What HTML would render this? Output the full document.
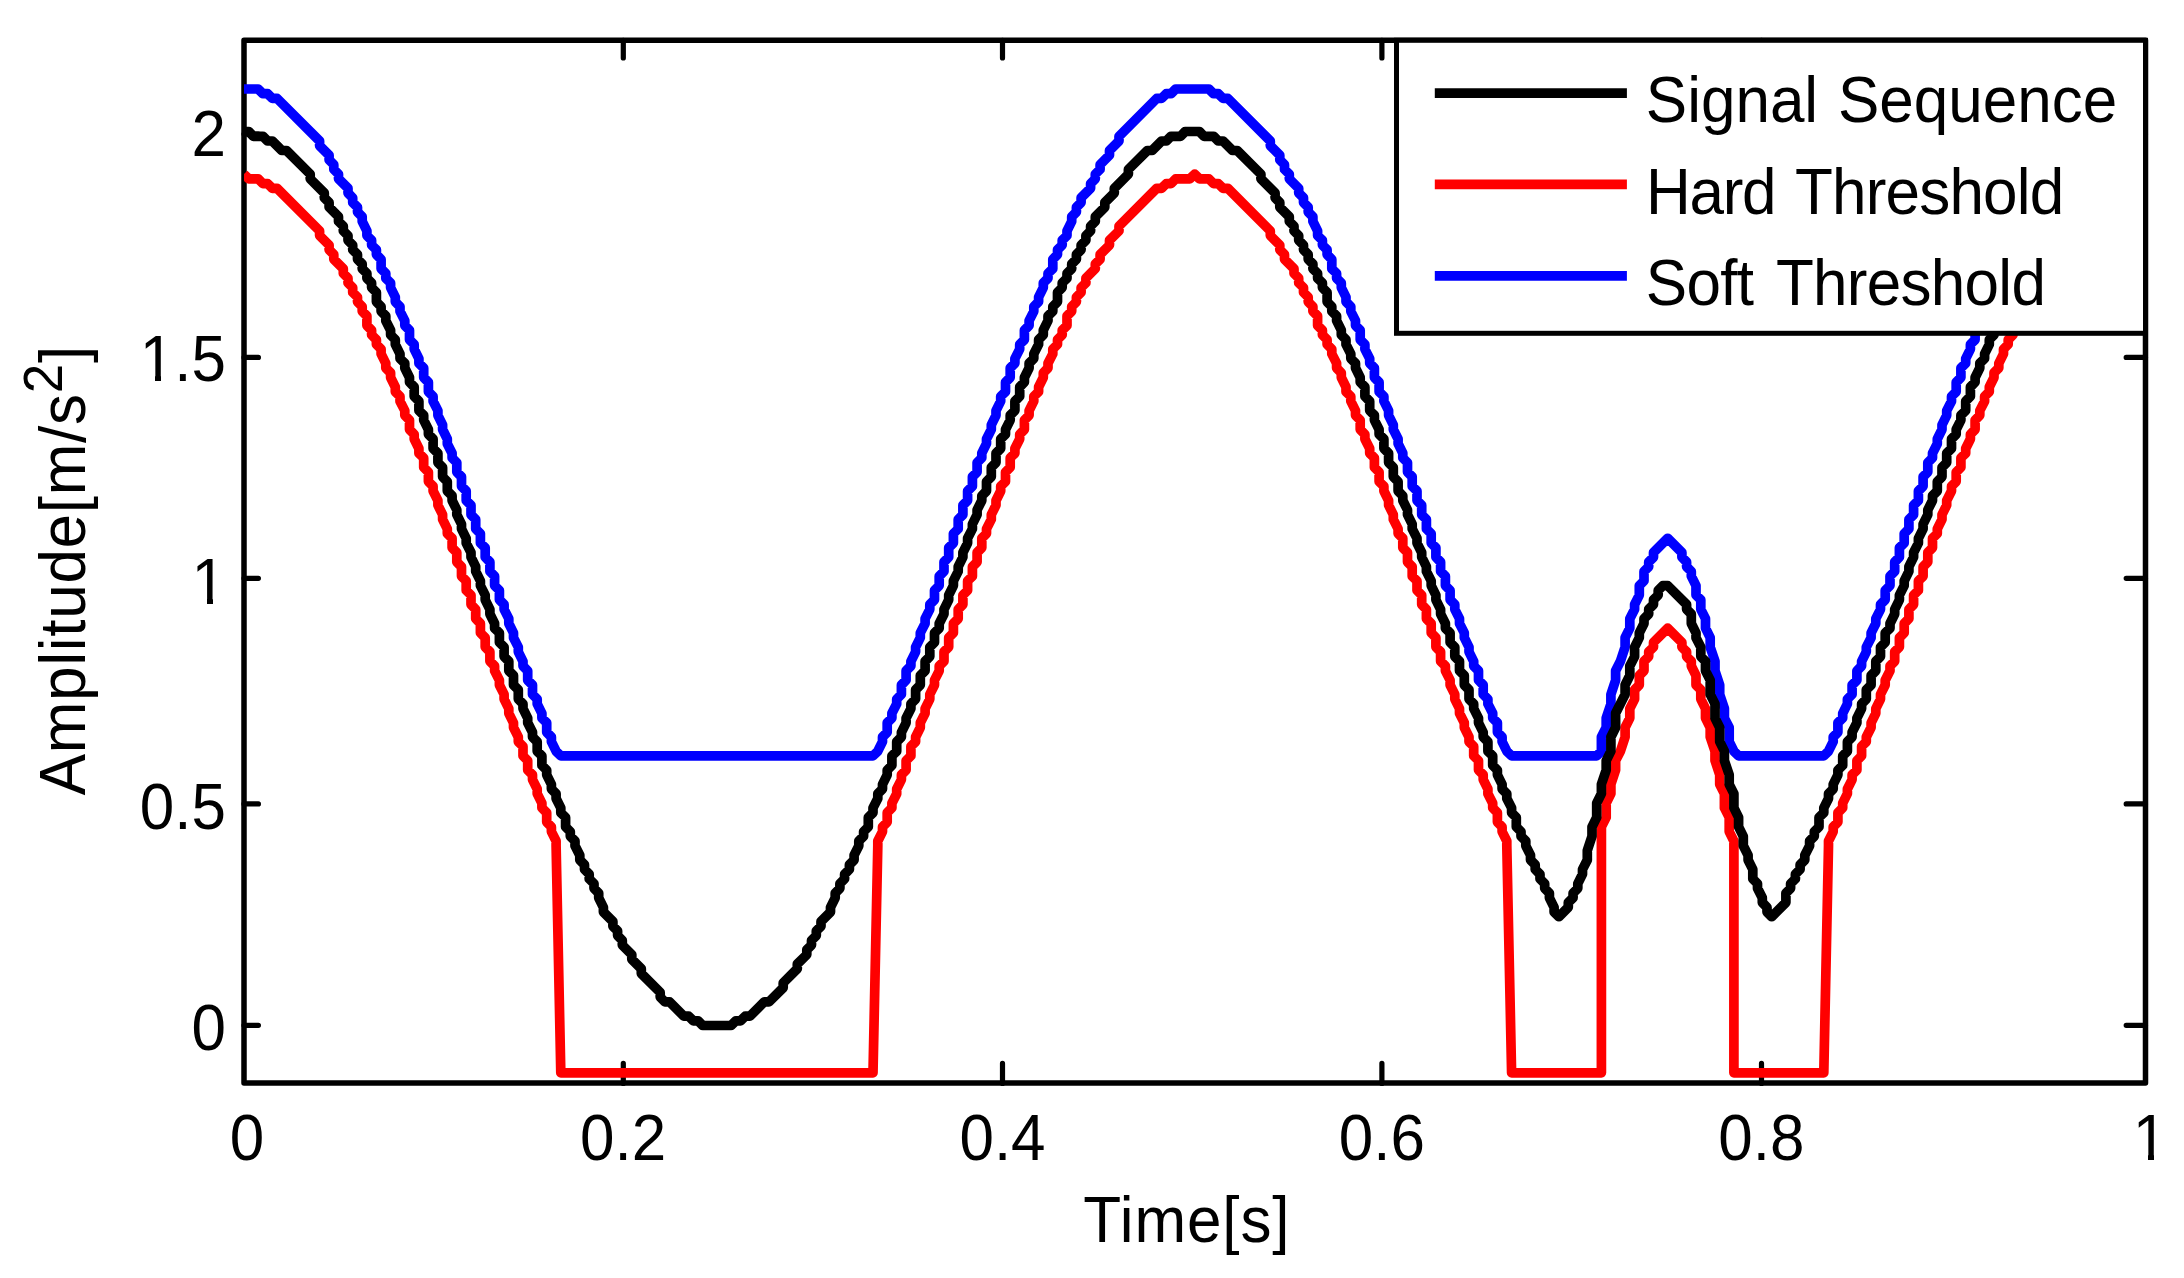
<!DOCTYPE html>
<html><head><meta charset="utf-8"><title>Thresholding</title>
<style>
html,body{margin:0;padding:0;background:#fff;}
svg{display:block;}
text{font-family:"Liberation Sans",sans-serif;font-size:62px;fill:#000;}
</style></head><body>
<svg width="2184" height="1278" viewBox="0 0 2184 1278">
<rect x="0" y="0" width="2184" height="1278" fill="#fff"/>
<defs><clipPath id="ax"><rect x="244.0" y="40.3" width="1901.5" height="1042.7"/></clipPath></defs>
<rect x="244.0" y="40.3" width="1901.5" height="1042.7" fill="none" stroke="#000" stroke-width="5.5" stroke-linejoin="round"/>
<path d="M623.3,1083.5V1063.4 M623.3,40.3V57.9 M1002.5,1083.5V1063.4 M1002.5,40.3V57.9 M1381.9,1083.5V1063.4 M1381.9,40.3V57.9 M1761.5,1083.5V1063.4 M1761.5,40.3V57.9 M244.0,134.0H258.4 M2145.5,134.0H2126.2 M244.0,357.4H258.4 M2145.5,357.4H2126.2 M244.0,578.3H258.4 M2145.5,578.3H2126.2 M244.0,803.9H258.4 M2145.5,803.9H2126.2 M244.0,1025.3H258.4 M2145.5,1025.3H2126.2" fill="none" stroke="#000" stroke-width="5.2" stroke-linecap="round"/>
<g clip-path="url(#ax)" fill="none" stroke-width="9.7" stroke-linejoin="round">
<polyline stroke="#0000ff" points="243.9,89.0 258.1,89.0 262.9,93.7 267.6,93.7 272.3,98.4 277.0,98.4 319.6,141.0 319.6,145.7 329.1,155.2 329.1,159.9 333.8,164.7 333.8,169.4 338.5,174.1 338.5,178.8 348.0,188.3 348.0,193.0 352.7,197.8 352.7,202.5 357.5,207.2 357.5,212.0 362.2,216.7 362.2,221.4 366.9,230.9 366.9,235.6 371.6,240.3 371.6,245.1 376.4,249.8 376.4,254.5 381.1,259.3 381.1,268.7 385.8,273.4 385.8,278.2 390.6,282.9 390.6,287.6 395.3,297.1 395.3,301.8 400.0,306.6 400.0,311.3 404.8,320.7 404.8,325.5 409.5,330.2 409.5,339.7 414.2,344.4 414.2,349.1 418.9,358.6 418.9,363.3 423.7,368.0 423.7,377.5 428.4,382.2 428.4,391.7 433.1,396.4 433.1,401.2 437.9,410.6 437.9,415.3 442.6,424.8 442.6,429.5 447.3,439.0 447.3,443.7 452.1,453.2 452.1,457.9 456.8,462.6 456.8,472.1 461.5,476.8 461.5,486.3 466.2,491.0 466.2,500.5 471.0,505.2 471.0,514.7 475.7,519.4 475.7,528.9 480.4,533.6 480.4,543.1 485.2,547.8 485.2,557.2 489.9,562.0 489.9,571.4 494.6,576.2 494.6,585.6 499.4,590.4 499.4,599.8 504.1,604.5 504.1,609.3 508.8,618.7 508.8,623.5 513.5,632.9 513.5,637.7 518.3,647.1 518.3,651.8 523.0,661.3 523.0,666.0 527.7,670.8 527.7,680.2 532.5,685.0 532.5,694.4 537.2,699.1 537.2,703.9 541.9,713.3 541.9,718.1 546.7,722.8 546.7,732.3 551.4,737.0 551.4,741.7 556.1,751.2 560.8,755.9 873.0,755.9 877.8,751.2 882.5,741.7 882.5,737.0 887.2,732.3 887.2,722.8 891.9,718.1 891.9,713.3 896.7,703.9 896.7,699.1 901.4,694.4 901.4,685.0 906.1,680.2 906.1,670.8 910.9,666.0 910.9,661.3 915.6,651.8 915.6,647.1 920.3,637.7 920.3,632.9 925.1,623.5 925.1,618.7 929.8,609.3 929.8,604.5 934.5,599.8 934.5,590.4 939.2,585.6 939.2,576.2 944.0,571.4 944.0,562.0 948.7,557.2 948.7,547.8 953.4,543.1 953.4,533.6 958.2,528.9 958.2,519.4 962.9,514.7 962.9,505.2 967.6,500.5 967.6,491.0 972.4,486.3 972.4,476.8 977.1,472.1 977.1,462.6 981.8,457.9 981.8,453.2 986.5,443.7 986.5,439.0 991.3,429.5 991.3,424.8 996.0,415.3 996.0,410.6 1000.7,401.2 1000.7,396.4 1005.5,391.7 1005.5,382.2 1010.2,377.5 1010.2,368.0 1014.9,363.3 1014.9,358.6 1019.7,349.1 1019.7,344.4 1024.4,339.7 1024.4,330.2 1029.1,325.5 1029.1,320.7 1033.8,311.3 1033.8,306.6 1038.6,301.8 1038.6,297.1 1043.3,287.6 1043.3,282.9 1048.0,278.2 1048.0,273.4 1052.8,268.7 1052.8,259.3 1057.5,254.5 1057.5,249.8 1062.2,245.1 1062.2,240.3 1067.0,235.6 1067.0,230.9 1071.7,221.4 1071.7,216.7 1076.4,212.0 1076.4,207.2 1081.1,202.5 1081.1,197.8 1090.6,188.3 1090.6,183.6 1095.3,178.8 1095.3,174.1 1100.1,169.4 1100.1,164.7 1109.5,155.2 1109.5,150.5 1119.0,141.0 1119.0,136.3 1156.8,98.4 1161.6,98.4 1166.3,93.7 1171.0,93.7 1175.7,89.0 1208.9,89.0 1213.6,93.7 1218.3,93.7 1223.0,98.4 1227.8,98.4 1270.3,141.0 1270.3,145.7 1279.8,155.2 1279.8,159.9 1284.5,164.7 1284.5,169.4 1289.3,174.1 1289.3,178.8 1298.7,188.3 1298.7,193.0 1303.5,197.8 1303.5,202.5 1308.2,207.2 1308.2,212.0 1312.9,216.7 1312.9,221.4 1317.6,230.9 1317.6,235.6 1322.4,240.3 1322.4,245.1 1327.1,249.8 1327.1,254.5 1331.8,259.3 1331.8,268.7 1336.6,273.4 1336.6,278.2 1341.3,282.9 1341.3,287.6 1346.0,297.1 1346.0,301.8 1350.8,306.6 1350.8,311.3 1355.5,320.7 1355.5,325.5 1360.2,330.2 1360.2,339.7 1364.9,344.4 1364.9,349.1 1369.7,358.6 1369.7,363.3 1374.4,368.0 1374.4,377.5 1379.1,382.2 1379.1,391.7 1383.9,396.4 1383.9,401.2 1388.6,410.6 1388.6,415.3 1393.3,424.8 1393.3,429.5 1398.1,439.0 1398.1,443.7 1402.8,453.2 1402.8,457.9 1407.5,462.6 1407.5,472.1 1412.2,476.8 1412.2,486.3 1417.0,491.0 1417.0,500.5 1421.7,505.2 1421.7,514.7 1426.4,519.4 1426.4,528.9 1431.2,533.6 1431.2,543.1 1435.9,547.8 1435.9,557.2 1440.6,562.0 1440.6,571.4 1445.4,576.2 1445.4,585.6 1450.1,590.4 1450.1,599.8 1454.8,604.5 1454.8,609.3 1459.5,618.7 1459.5,623.5 1464.3,632.9 1464.3,637.7 1469.0,647.1 1469.0,651.8 1473.7,661.3 1473.7,666.0 1478.5,670.8 1478.5,680.2 1483.2,685.0 1483.2,694.4 1487.9,699.1 1487.9,703.9 1492.7,713.3 1492.7,718.1 1497.4,722.8 1497.4,732.3 1502.1,737.0 1502.1,741.7 1506.8,751.2 1511.6,755.9 1596.7,755.9 1601.4,751.2 1601.4,737.0 1606.2,727.5 1606.2,718.1 1610.9,703.9 1610.9,694.4 1615.6,680.2 1615.6,670.8 1620.4,661.3 1625.1,647.1 1625.1,637.7 1629.8,628.2 1629.8,618.7 1634.6,609.3 1634.6,604.5 1639.3,595.1 1639.3,585.6 1644.0,580.9 1644.0,571.4 1648.7,566.7 1648.7,562.0 1653.5,557.2 1653.5,552.5 1667.7,538.3 1681.9,552.5 1681.9,557.2 1686.6,562.0 1686.6,566.7 1691.3,571.4 1691.3,576.2 1696.0,585.6 1696.0,595.1 1700.8,599.8 1700.8,609.3 1705.5,618.7 1705.5,628.2 1710.2,637.7 1710.2,647.1 1715.0,661.3 1715.0,670.8 1719.7,685.0 1719.7,694.4 1724.4,708.6 1724.4,718.1 1729.2,727.5 1729.2,741.7 1733.9,751.2 1738.6,755.9 1823.8,755.9 1828.5,751.2 1833.2,741.7 1833.2,737.0 1837.9,732.3 1837.9,722.8 1842.7,718.1 1842.7,713.3 1847.4,703.9 1847.4,699.1 1852.1,694.4 1852.1,685.0 1856.9,680.2 1856.9,670.8 1861.6,666.0 1861.6,661.3 1866.3,651.8 1866.3,647.1 1871.1,637.7 1871.1,632.9 1875.8,623.5 1875.8,618.7 1880.5,609.3 1880.5,604.5 1885.2,599.8 1885.2,590.4 1890.0,585.6 1890.0,576.2 1894.7,571.4 1894.7,562.0 1899.4,557.2 1899.4,547.8 1904.2,543.1 1904.2,533.6 1908.9,528.9 1908.9,519.4 1913.6,514.7 1913.6,505.2 1918.4,500.5 1918.4,491.0 1923.1,486.3 1923.1,476.8 1927.8,472.1 1927.8,462.6 1932.5,457.9 1932.5,453.2 1937.3,443.7 1937.3,439.0 1942.0,429.5 1942.0,424.8 1946.7,415.3 1946.7,410.6 1951.5,401.2 1951.5,396.4 1956.2,391.7 1956.2,382.2 1960.9,377.5 1960.9,368.0 1965.7,363.3 1965.7,358.6 1970.4,349.1 1970.4,344.4 1975.1,339.7 1975.1,330.2 1979.8,325.5 1979.8,320.7 1984.6,311.3 1984.6,306.6 1989.3,301.8 1989.3,297.1 1994.0,287.6 1994.0,282.9 1998.8,278.2 1998.8,273.4 2003.5,268.7 2003.5,259.3 2008.2,254.5 2008.2,249.8 2013.0,245.1 2013.0,240.3 2017.7,235.6 2017.7,230.9 2022.4,221.4 2022.4,216.7 2027.1,212.0 2027.1,207.2 2031.9,202.5 2031.9,197.8 2041.3,188.3 2041.3,183.6 2046.1,178.8 2046.1,174.1 2050.8,169.4 2050.8,164.7 2060.2,155.2 2060.2,150.5 2069.7,141.0 2069.7,136.3 2107.6,98.4 2112.3,98.4 2117.0,93.7 2121.7,93.7 2126.5,89.0 2145.4,89.0"/>
<polyline stroke="#ff0000" points="243.9,174.1 248.7,178.8 258.1,178.8 262.9,183.6 267.6,183.6 272.3,188.3 277.0,188.3 319.6,230.9 319.6,235.6 329.1,245.1 329.1,249.8 333.8,254.5 333.8,259.3 343.3,268.7 343.3,273.4 348.0,278.2 348.0,282.9 352.7,287.6 352.7,292.4 357.5,297.1 357.5,301.8 362.2,306.6 362.2,311.3 366.9,316.0 366.9,325.5 371.6,330.2 371.6,334.9 376.4,339.7 376.4,344.4 381.1,349.1 381.1,353.9 385.8,363.3 385.8,368.0 390.6,372.8 390.6,377.5 395.3,387.0 395.3,391.7 400.0,396.4 400.0,401.2 404.8,410.6 404.8,415.3 409.5,420.1 409.5,429.5 414.2,434.3 414.2,439.0 418.9,448.5 418.9,453.2 423.7,457.9 423.7,467.4 428.4,472.1 428.4,481.6 433.1,486.3 433.1,491.0 437.9,500.5 437.9,505.2 442.6,514.7 442.6,519.4 447.3,528.9 447.3,533.6 452.1,538.3 452.1,547.8 456.8,552.5 456.8,562.0 461.5,566.7 461.5,576.2 466.2,580.9 466.2,590.4 471.0,595.1 471.0,604.5 475.7,609.3 475.7,618.7 480.4,623.5 480.4,632.9 485.2,637.7 485.2,647.1 489.9,651.8 489.9,661.3 494.6,666.0 494.6,670.8 499.4,680.2 499.4,685.0 504.1,694.4 504.1,699.1 508.8,708.6 508.8,713.3 513.5,722.8 513.5,727.5 518.3,737.0 518.3,741.7 523.0,746.4 523.0,755.9 527.7,760.6 527.7,770.1 532.5,774.8 532.5,779.6 537.2,789.0 537.2,793.7 541.9,803.2 541.9,807.9 546.7,812.7 546.7,822.1 551.4,826.9 551.4,831.6 556.1,841.0 556.1,845.8 560.8,1072.8 873.0,1072.8 877.8,845.8 877.8,841.0 882.5,831.6 882.5,826.9 887.2,822.1 887.2,812.7 891.9,807.9 891.9,803.2 896.7,793.7 896.7,789.0 901.4,779.6 901.4,774.8 906.1,770.1 906.1,760.6 910.9,755.9 910.9,746.4 915.6,741.7 915.6,737.0 920.3,727.5 920.3,722.8 925.1,713.3 925.1,708.6 929.8,699.1 929.8,694.4 934.5,685.0 934.5,680.2 939.2,670.8 939.2,666.0 944.0,661.3 944.0,651.8 948.7,647.1 948.7,637.7 953.4,632.9 953.4,623.5 958.2,618.7 958.2,609.3 962.9,604.5 962.9,595.1 967.6,590.4 967.6,580.9 972.4,576.2 972.4,566.7 977.1,562.0 977.1,552.5 981.8,547.8 981.8,538.3 986.5,533.6 986.5,528.9 991.3,519.4 991.3,514.7 996.0,505.2 996.0,500.5 1000.7,491.0 1000.7,486.3 1005.5,481.6 1005.5,472.1 1010.2,467.4 1010.2,457.9 1014.9,453.2 1014.9,448.5 1019.7,439.0 1019.7,434.3 1024.4,429.5 1024.4,420.1 1029.1,415.3 1029.1,410.6 1033.8,401.2 1033.8,396.4 1038.6,391.7 1038.6,387.0 1043.3,377.5 1043.3,372.8 1048.0,368.0 1048.0,363.3 1052.8,353.9 1052.8,349.1 1057.5,344.4 1057.5,339.7 1062.2,334.9 1062.2,330.2 1067.0,325.5 1067.0,316.0 1071.7,311.3 1071.7,306.6 1076.4,301.8 1076.4,297.1 1081.1,292.4 1081.1,287.6 1085.9,282.9 1085.9,278.2 1095.3,268.7 1095.3,264.0 1100.1,259.3 1100.1,254.5 1109.5,245.1 1109.5,240.3 1119.0,230.9 1119.0,226.1 1156.8,188.3 1161.6,188.3 1166.3,183.6 1171.0,183.6 1175.7,178.8 1189.9,178.8 1194.7,174.1 1199.4,178.8 1208.9,178.8 1213.6,183.6 1218.3,183.6 1223.0,188.3 1227.8,188.3 1270.3,230.9 1270.3,235.6 1279.8,245.1 1279.8,249.8 1284.5,254.5 1284.5,259.3 1294.0,268.7 1294.0,273.4 1298.7,278.2 1298.7,282.9 1303.5,287.6 1303.5,292.4 1308.2,297.1 1308.2,301.8 1312.9,306.6 1312.9,311.3 1317.6,316.0 1317.6,325.5 1322.4,330.2 1322.4,334.9 1327.1,339.7 1327.1,344.4 1331.8,349.1 1331.8,353.9 1336.6,363.3 1336.6,368.0 1341.3,372.8 1341.3,377.5 1346.0,387.0 1346.0,391.7 1350.8,396.4 1350.8,401.2 1355.5,410.6 1355.5,415.3 1360.2,420.1 1360.2,429.5 1364.9,434.3 1364.9,439.0 1369.7,448.5 1369.7,453.2 1374.4,457.9 1374.4,467.4 1379.1,472.1 1379.1,481.6 1383.9,486.3 1383.9,491.0 1388.6,500.5 1388.6,505.2 1393.3,514.7 1393.3,519.4 1398.1,528.9 1398.1,533.6 1402.8,538.3 1402.8,547.8 1407.5,552.5 1407.5,562.0 1412.2,566.7 1412.2,576.2 1417.0,580.9 1417.0,590.4 1421.7,595.1 1421.7,604.5 1426.4,609.3 1426.4,618.7 1431.2,623.5 1431.2,632.9 1435.9,637.7 1435.9,647.1 1440.6,651.8 1440.6,661.3 1445.4,666.0 1445.4,670.8 1450.1,680.2 1450.1,685.0 1454.8,694.4 1454.8,699.1 1459.5,708.6 1459.5,713.3 1464.3,722.8 1464.3,727.5 1469.0,737.0 1469.0,741.7 1473.7,746.4 1473.7,755.9 1478.5,760.6 1478.5,770.1 1483.2,774.8 1483.2,779.6 1487.9,789.0 1487.9,793.7 1492.7,803.2 1492.7,807.9 1497.4,812.7 1497.4,822.1 1502.1,826.9 1502.1,831.6 1506.8,841.0 1506.8,845.8 1511.6,1072.8 1601.4,1072.8 1601.4,826.9 1606.2,817.4 1606.2,803.2 1610.9,793.7 1610.9,784.3 1615.6,770.1 1615.6,760.6 1620.4,751.2 1625.1,737.0 1625.1,727.5 1629.8,718.1 1629.8,708.6 1634.6,699.1 1634.6,689.7 1639.3,685.0 1639.3,675.5 1644.0,670.8 1644.0,661.3 1648.7,656.6 1648.7,651.8 1653.5,647.1 1653.5,642.4 1667.7,628.2 1681.9,642.4 1681.9,647.1 1686.6,651.8 1686.6,656.6 1691.3,661.3 1691.3,666.0 1696.0,675.5 1696.0,685.0 1700.8,689.7 1700.8,699.1 1705.5,708.6 1705.5,718.1 1710.2,727.5 1710.2,737.0 1715.0,751.2 1715.0,760.6 1719.7,774.8 1719.7,784.3 1724.4,793.7 1724.4,807.9 1729.2,817.4 1729.2,831.6 1733.9,841.0 1733.9,1072.8 1823.8,1072.8 1828.5,845.8 1828.5,841.0 1833.2,831.6 1833.2,826.9 1837.9,822.1 1837.9,812.7 1842.7,807.9 1842.7,803.2 1847.4,793.7 1847.4,789.0 1852.1,779.6 1852.1,774.8 1856.9,770.1 1856.9,760.6 1861.6,755.9 1861.6,746.4 1866.3,741.7 1866.3,737.0 1871.1,727.5 1871.1,722.8 1875.8,713.3 1875.8,708.6 1880.5,699.1 1880.5,694.4 1885.2,685.0 1885.2,680.2 1890.0,670.8 1890.0,666.0 1894.7,661.3 1894.7,651.8 1899.4,647.1 1899.4,637.7 1904.2,632.9 1904.2,623.5 1908.9,618.7 1908.9,609.3 1913.6,604.5 1913.6,595.1 1918.4,590.4 1918.4,580.9 1923.1,576.2 1923.1,566.7 1927.8,562.0 1927.8,552.5 1932.5,547.8 1932.5,538.3 1937.3,533.6 1937.3,528.9 1942.0,519.4 1942.0,514.7 1946.7,505.2 1946.7,500.5 1951.5,491.0 1951.5,486.3 1956.2,481.6 1956.2,472.1 1960.9,467.4 1960.9,457.9 1965.7,453.2 1965.7,448.5 1970.4,439.0 1970.4,434.3 1975.1,429.5 1975.1,420.1 1979.8,415.3 1979.8,410.6 1984.6,401.2 1984.6,396.4 1989.3,391.7 1989.3,387.0 1994.0,377.5 1994.0,372.8 1998.8,368.0 1998.8,363.3 2003.5,353.9 2003.5,349.1 2008.2,344.4 2008.2,339.7 2013.0,334.9 2013.0,330.2 2017.7,325.5 2017.7,316.0 2022.4,311.3 2022.4,306.6 2027.1,301.8 2027.1,297.1 2031.9,292.4 2031.9,287.6 2036.6,282.9 2036.6,278.2 2046.1,268.7 2046.1,264.0 2050.8,259.3 2050.8,254.5 2060.2,245.1 2060.2,240.3 2069.7,230.9 2069.7,226.1 2107.6,188.3 2112.3,188.3 2117.0,183.6 2121.7,183.6 2126.5,178.8 2140.7,178.8 2145.4,174.1"/>
<polyline stroke="#000000" points="243.9,131.5 248.7,131.5 253.4,136.3 262.9,136.3 267.6,141.0 272.3,141.0 281.8,150.5 286.5,150.5 310.2,174.1 310.2,178.8 324.3,193.0 324.3,197.8 329.1,202.5 329.1,207.2 338.5,216.7 338.5,221.4 343.3,226.1 343.3,230.9 348.0,235.6 348.0,240.3 352.7,245.1 352.7,249.8 357.5,254.5 357.5,259.3 362.2,264.0 362.2,268.7 366.9,273.4 366.9,278.2 371.6,282.9 371.6,287.6 376.4,292.4 376.4,301.8 381.1,306.6 381.1,311.3 385.8,316.0 385.8,320.7 390.6,330.2 390.6,334.9 395.3,339.7 395.3,344.4 400.0,353.9 400.0,358.6 404.8,363.3 404.8,368.0 409.5,377.5 409.5,382.2 414.2,387.0 414.2,396.4 418.9,401.2 418.9,410.6 423.7,415.3 423.7,420.1 428.4,429.5 428.4,434.3 433.1,439.0 433.1,448.5 437.9,453.2 437.9,462.6 442.6,467.4 442.6,476.8 447.3,481.6 447.3,491.0 452.1,495.8 452.1,500.5 456.8,509.9 456.8,514.7 461.5,524.1 461.5,528.9 466.2,538.3 466.2,543.1 471.0,552.5 471.0,557.2 475.7,566.7 475.7,571.4 480.4,580.9 480.4,585.6 485.2,595.1 485.2,599.8 489.9,609.3 489.9,614.0 494.6,623.5 494.6,628.2 499.4,632.9 499.4,642.4 504.1,647.1 504.1,656.6 508.8,661.3 508.8,670.8 513.5,675.5 513.5,685.0 518.3,689.7 518.3,699.1 523.0,703.9 523.0,708.6 527.7,718.1 527.7,722.8 532.5,732.3 532.5,737.0 537.2,741.7 537.2,751.2 541.9,755.9 541.9,765.4 546.7,770.1 546.7,774.8 551.4,784.3 551.4,789.0 556.1,793.7 556.1,798.5 560.8,807.9 560.8,812.7 565.6,817.4 565.6,826.9 570.3,831.6 570.3,836.3 575.0,841.0 575.0,845.8 579.8,855.2 579.8,860.0 584.5,864.7 584.5,869.4 589.2,874.2 589.2,878.9 594.0,883.6 594.0,888.3 598.7,893.1 598.7,897.8 603.4,907.3 603.4,912.0 612.9,921.5 612.9,926.2 617.6,930.9 617.6,935.6 622.3,940.4 622.3,945.1 631.8,954.6 631.8,959.3 641.3,968.8 641.3,973.5 660.2,992.4 660.2,997.1 664.9,1001.9 669.6,1001.9 683.8,1016.1 688.6,1016.1 693.3,1020.8 698.0,1020.8 702.7,1025.5 731.1,1025.5 735.9,1020.8 740.6,1020.8 745.3,1016.1 750.0,1016.1 764.2,1001.9 769.0,1001.9 783.2,987.7 783.2,982.9 797.3,968.8 797.3,964.0 806.8,954.6 806.8,949.8 811.5,945.1 811.5,940.4 816.3,935.6 816.3,930.9 821.0,926.2 821.0,921.5 830.5,912.0 830.5,907.3 835.2,897.8 835.2,893.1 839.9,888.3 839.9,883.6 844.6,878.9 844.6,874.2 849.4,869.4 849.4,864.7 854.1,860.0 854.1,855.2 858.8,845.8 858.8,841.0 863.6,836.3 863.6,831.6 868.3,826.9 868.3,817.4 873.0,812.7 873.0,807.9 877.8,798.5 877.8,793.7 882.5,789.0 882.5,784.3 887.2,774.8 887.2,770.1 891.9,765.4 891.9,755.9 896.7,751.2 896.7,741.7 901.4,737.0 901.4,732.3 906.1,722.8 906.1,718.1 910.9,708.6 910.9,703.9 915.6,699.1 915.6,689.7 920.3,685.0 920.3,675.5 925.1,670.8 925.1,661.3 929.8,656.6 929.8,647.1 934.5,642.4 934.5,632.9 939.2,628.2 939.2,623.5 944.0,614.0 944.0,609.3 948.7,599.8 948.7,595.1 953.4,585.6 953.4,580.9 958.2,571.4 958.2,566.7 962.9,557.2 962.9,552.5 967.6,543.1 967.6,538.3 972.4,528.9 972.4,524.1 977.1,514.7 977.1,509.9 981.8,500.5 981.8,495.8 986.5,491.0 986.5,481.6 991.3,476.8 991.3,467.4 996.0,462.6 996.0,453.2 1000.7,448.5 1000.7,439.0 1005.5,434.3 1005.5,429.5 1010.2,420.1 1010.2,415.3 1014.9,410.6 1014.9,401.2 1019.7,396.4 1019.7,387.0 1024.4,382.2 1024.4,377.5 1029.1,368.0 1029.1,363.3 1033.8,358.6 1033.8,353.9 1038.6,344.4 1038.6,339.7 1043.3,334.9 1043.3,330.2 1048.0,320.7 1048.0,316.0 1052.8,311.3 1052.8,306.6 1057.5,301.8 1057.5,292.4 1062.2,287.6 1062.2,282.9 1067.0,278.2 1067.0,273.4 1071.7,268.7 1071.7,264.0 1076.4,259.3 1076.4,254.5 1081.1,249.8 1081.1,245.1 1085.9,240.3 1085.9,235.6 1090.6,230.9 1090.6,226.1 1095.3,221.4 1095.3,216.7 1104.8,207.2 1104.8,202.5 1114.3,193.0 1114.3,188.3 1128.4,174.1 1128.4,169.4 1147.4,150.5 1152.1,150.5 1161.6,141.0 1166.3,141.0 1171.0,136.3 1180.5,136.3 1185.2,131.5 1199.4,131.5 1204.1,136.3 1213.6,136.3 1218.3,141.0 1223.0,141.0 1232.5,150.5 1237.2,150.5 1260.9,174.1 1260.9,178.8 1275.1,193.0 1275.1,197.8 1279.8,202.5 1279.8,207.2 1289.3,216.7 1289.3,221.4 1294.0,226.1 1294.0,230.9 1298.7,235.6 1298.7,240.3 1303.5,245.1 1303.5,249.8 1308.2,254.5 1308.2,259.3 1312.9,264.0 1312.9,268.7 1317.6,273.4 1317.6,278.2 1322.4,282.9 1322.4,287.6 1327.1,292.4 1327.1,301.8 1331.8,306.6 1331.8,311.3 1336.6,316.0 1336.6,320.7 1341.3,330.2 1341.3,334.9 1346.0,339.7 1346.0,344.4 1350.8,353.9 1350.8,358.6 1355.5,363.3 1355.5,368.0 1360.2,377.5 1360.2,382.2 1364.9,387.0 1364.9,396.4 1369.7,401.2 1369.7,410.6 1374.4,415.3 1374.4,420.1 1379.1,429.5 1379.1,434.3 1383.9,439.0 1383.9,448.5 1388.6,453.2 1388.6,462.6 1393.3,467.4 1393.3,476.8 1398.1,481.6 1398.1,491.0 1402.8,495.8 1402.8,500.5 1407.5,509.9 1407.5,514.7 1412.2,524.1 1412.2,528.9 1417.0,538.3 1417.0,543.1 1421.7,552.5 1421.7,557.2 1426.4,566.7 1426.4,571.4 1431.2,580.9 1431.2,585.6 1435.9,595.1 1435.9,599.8 1440.6,609.3 1440.6,614.0 1445.4,623.5 1445.4,628.2 1450.1,632.9 1450.1,642.4 1454.8,647.1 1454.8,656.6 1459.5,661.3 1459.5,670.8 1464.3,675.5 1464.3,685.0 1469.0,689.7 1469.0,699.1 1473.7,703.9 1473.7,708.6 1478.5,718.1 1478.5,722.8 1483.2,732.3 1483.2,737.0 1487.9,741.7 1487.9,751.2 1492.7,755.9 1492.7,765.4 1497.4,770.1 1497.4,774.8 1502.1,784.3 1502.1,789.0 1506.8,793.7 1506.8,798.5 1511.6,807.9 1511.6,812.7 1516.3,817.4 1516.3,826.9 1521.0,831.6 1521.0,836.3 1525.8,841.0 1525.8,845.8 1530.5,855.2 1530.5,860.0 1535.2,864.7 1535.2,869.4 1540.0,874.2 1540.0,878.9 1544.7,883.6 1544.7,888.3 1549.4,893.1 1549.4,897.8 1554.1,907.3 1554.1,912.0 1558.9,916.7 1568.3,907.3 1568.3,902.5 1573.1,897.8 1573.1,893.1 1577.8,888.3 1577.8,883.6 1582.5,874.2 1582.5,869.4 1587.3,860.0 1587.3,850.5 1592.0,836.3 1592.0,826.9 1596.7,817.4 1596.7,803.2 1601.4,793.7 1601.4,784.3 1606.2,770.1 1606.2,760.6 1610.9,751.2 1610.9,737.0 1615.6,727.5 1615.6,713.3 1625.1,694.4 1625.1,685.0 1629.8,675.5 1629.8,666.0 1634.6,656.6 1634.6,647.1 1639.3,637.7 1639.3,632.9 1644.0,623.5 1644.0,618.7 1648.7,614.0 1648.7,609.3 1653.5,604.5 1653.5,599.8 1658.2,595.1 1658.2,590.4 1662.9,585.6 1667.7,585.6 1686.6,604.5 1686.6,609.3 1691.3,614.0 1691.3,623.5 1696.0,632.9 1696.0,637.7 1700.8,647.1 1700.8,656.6 1705.5,661.3 1705.5,670.8 1710.2,680.2 1710.2,694.4 1715.0,703.9 1715.0,718.1 1719.7,727.5 1719.7,741.7 1724.4,751.2 1724.4,760.6 1729.2,774.8 1729.2,784.3 1733.9,793.7 1733.9,807.9 1738.6,817.4 1738.6,826.9 1743.3,836.3 1743.3,845.8 1748.1,855.2 1748.1,860.0 1752.8,869.4 1752.8,878.9 1757.5,883.6 1757.5,888.3 1762.3,897.8 1762.3,902.5 1767.0,907.3 1767.0,912.0 1771.7,916.7 1785.9,902.5 1785.9,893.1 1790.6,888.3 1790.6,883.6 1795.4,878.9 1795.4,874.2 1800.1,869.4 1800.1,864.7 1804.8,860.0 1804.8,855.2 1809.6,845.8 1809.6,841.0 1814.3,836.3 1814.3,831.6 1819.0,826.9 1819.0,817.4 1823.8,812.7 1823.8,807.9 1828.5,798.5 1828.5,793.7 1833.2,789.0 1833.2,784.3 1837.9,774.8 1837.9,770.1 1842.7,765.4 1842.7,755.9 1847.4,751.2 1847.4,741.7 1852.1,737.0 1852.1,732.3 1856.9,722.8 1856.9,718.1 1861.6,708.6 1861.6,703.9 1866.3,699.1 1866.3,689.7 1871.1,685.0 1871.1,675.5 1875.8,670.8 1875.8,661.3 1880.5,656.6 1880.5,647.1 1885.2,642.4 1885.2,632.9 1890.0,628.2 1890.0,623.5 1894.7,614.0 1894.7,609.3 1899.4,599.8 1899.4,595.1 1904.2,585.6 1904.2,580.9 1908.9,571.4 1908.9,566.7 1913.6,557.2 1913.6,552.5 1918.4,543.1 1918.4,538.3 1923.1,528.9 1923.1,524.1 1927.8,514.7 1927.8,509.9 1932.5,500.5 1932.5,495.8 1937.3,491.0 1937.3,481.6 1942.0,476.8 1942.0,467.4 1946.7,462.6 1946.7,453.2 1951.5,448.5 1951.5,439.0 1956.2,434.3 1956.2,429.5 1960.9,420.1 1960.9,415.3 1965.7,410.6 1965.7,401.2 1970.4,396.4 1970.4,387.0 1975.1,382.2 1975.1,377.5 1979.8,368.0 1979.8,363.3 1984.6,358.6 1984.6,353.9 1989.3,344.4 1989.3,339.7 1994.0,334.9 1994.0,330.2 1998.8,320.7 1998.8,316.0 2003.5,311.3 2003.5,306.6 2008.2,301.8 2008.2,292.4 2013.0,287.6 2013.0,282.9 2017.7,278.2 2017.7,273.4 2022.4,268.7 2022.4,264.0 2027.1,259.3 2027.1,254.5 2031.9,249.8 2031.9,245.1 2036.6,240.3 2036.6,235.6 2041.3,230.9 2041.3,226.1 2046.1,221.4 2046.1,216.7 2055.5,207.2 2055.5,202.5 2065.0,193.0 2065.0,188.3 2079.2,174.1 2079.2,169.4 2098.1,150.5 2102.8,150.5 2112.3,141.0 2117.0,141.0 2121.7,136.3 2131.2,136.3 2135.9,131.5 2145.4,131.5"/>
</g>
<text transform="translate(247,1160.4) scale(1,1.055)" text-anchor="middle">0</text>
<text transform="translate(623.2,1160.4) scale(1,1.055)" text-anchor="middle">0.2</text>
<text transform="translate(1002.5,1160.4) scale(1,1.055)" text-anchor="middle">0.4</text>
<text transform="translate(1381.9,1160.4) scale(1,1.055)" text-anchor="middle">0.6</text>
<text transform="translate(1761.3,1160.4) scale(1,1.055)" text-anchor="middle">0.8</text>
<text transform="translate(2150,1160.4) scale(1,1.055)" text-anchor="middle">1</text>
<text transform="translate(226,156.4) scale(1,1.055)" text-anchor="end">2</text>
<text transform="translate(226,381.4) scale(1,1.055)" text-anchor="end">1.5</text>
<text transform="translate(226,603.6) scale(1,1.055)" text-anchor="end">1</text>
<text transform="translate(226,829.2) scale(1,1.055)" text-anchor="end">0.5</text>
<text transform="translate(226,1049.9) scale(1,1.055)" text-anchor="end">0</text>
<path d="M2134,1153.6h14v8h-14zM2154,1153.6h12v8h-12zM194,597.6h13v8h-13zM213,597.6h13v8h-13zM142,374.6h13v8h-13zM161,374.6h12v8h-12z" fill="#fff"/>
<text transform="translate(1186.4,1241.9) scale(1,1.04)" text-anchor="middle" textLength="206.2" lengthAdjust="spacing">Time[s]</text>
<text transform="translate(85,570.6) rotate(-90) scale(1,1.04)" text-anchor="middle" textLength="449.5" lengthAdjust="spacing">Amplitude[m/s<tspan font-size="53" dy="-22.5">2</tspan><tspan dy="22.5">]</tspan></text>
<rect x="1396.5" y="40.3" width="749" height="293" fill="#fff" stroke="#000" stroke-width="5"/>
<path d="M1434.8,93.2H1626.9" stroke="#000" stroke-width="9.8" fill="none"/>
<path d="M1434.8,184.4H1626.9" stroke="#f00" stroke-width="9.7" fill="none"/>
<path d="M1434.8,275.9H1626.9" stroke="#00f" stroke-width="9.7" fill="none"/>
<text transform="translate(1645.8,122.4) scale(1,1.04)">Signal</text>
<text transform="translate(1837.9,122.4) scale(1,1.04)">Sequence</text>
<text transform="translate(1646.1,213.6) scale(1,1.04)" textLength="130.4" lengthAdjust="spacing">Hard</text>
<text transform="translate(1795,213.6) scale(1,1.04)" textLength="269.2" lengthAdjust="spacing">Threshold</text>
<text transform="translate(1645.8,304.8) scale(1,1.04)" textLength="108.3" lengthAdjust="spacing">Soft</text>
<text transform="translate(1775.9,304.8) scale(1,1.04)" textLength="270" lengthAdjust="spacing">Threshold</text>
</svg></body></html>
